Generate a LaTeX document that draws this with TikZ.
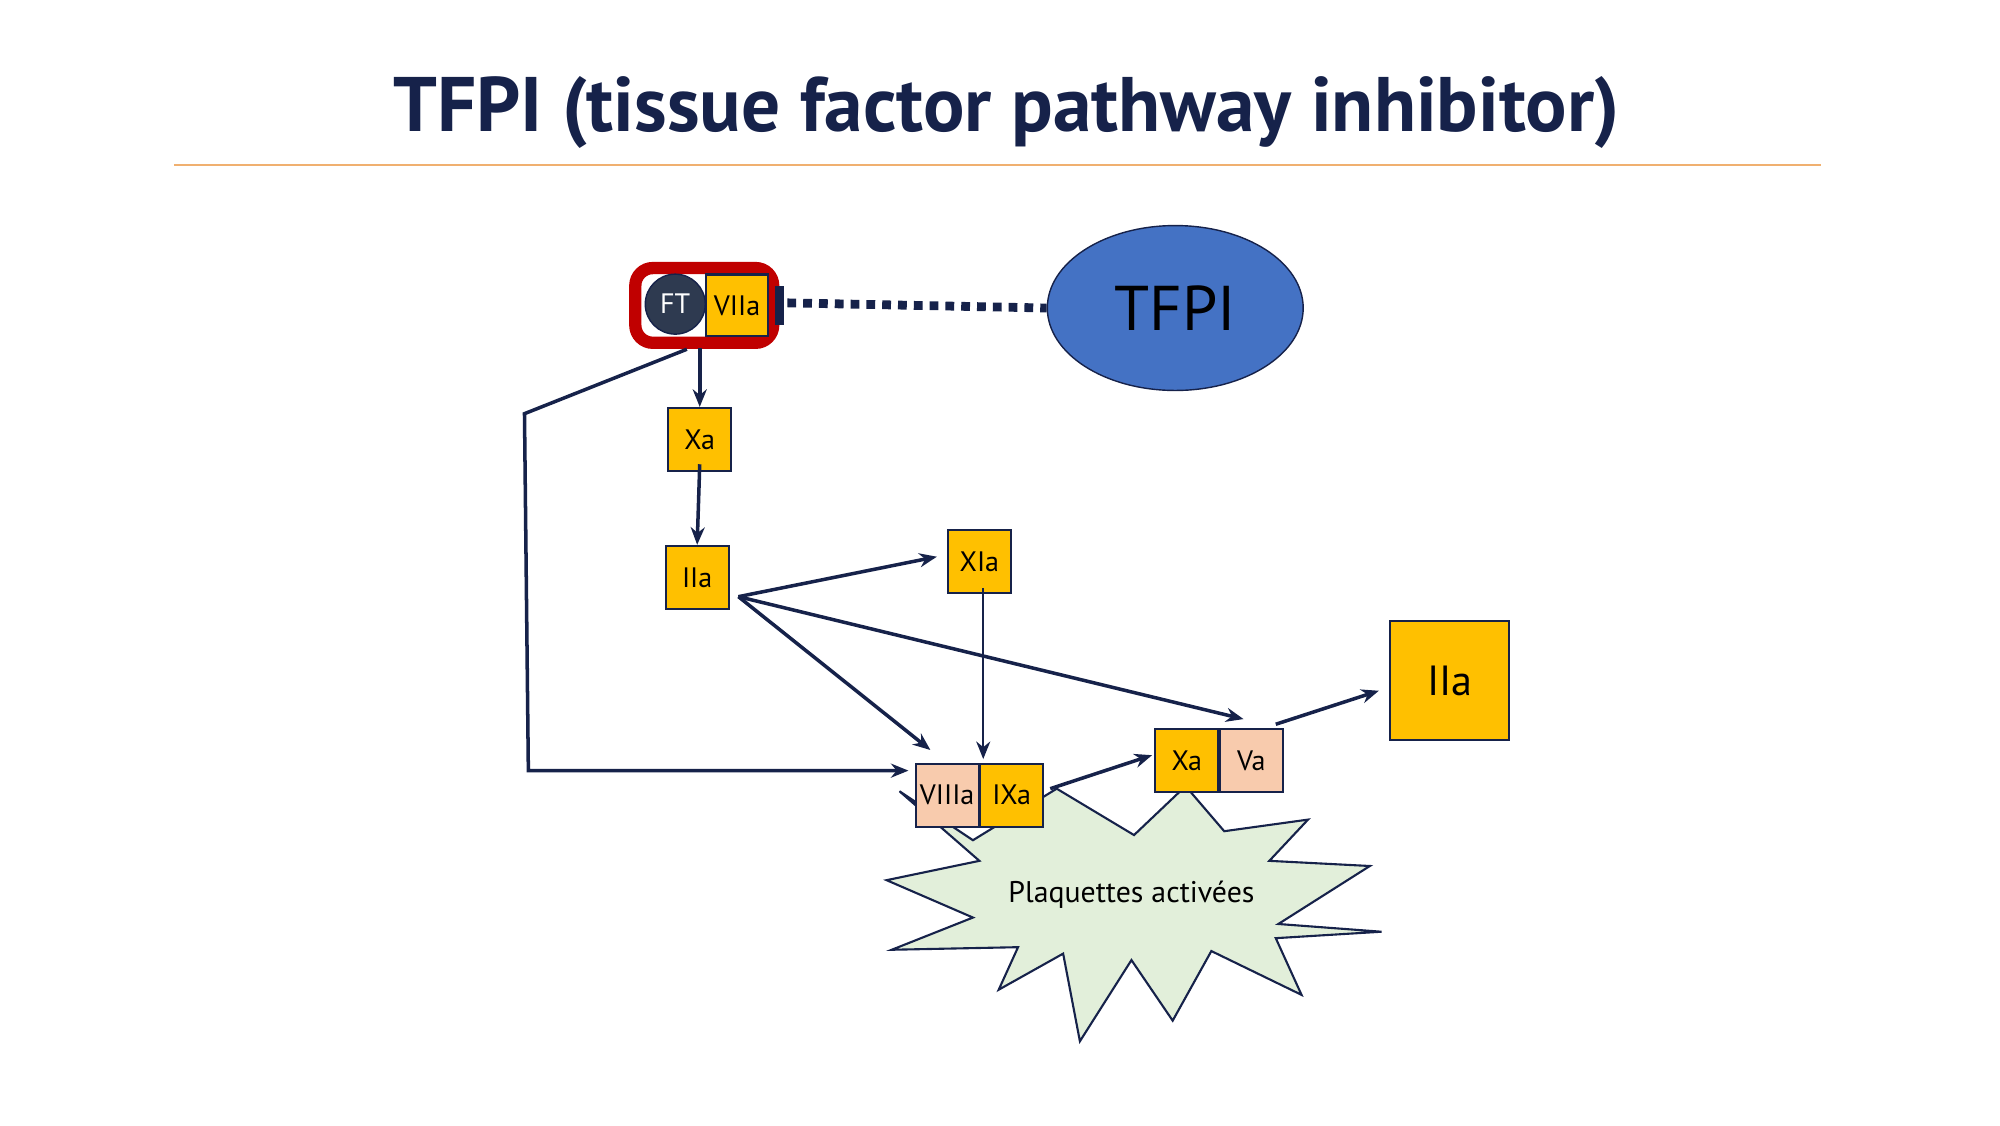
\documentclass[tikz,border=0pt]{standalone}
\usepackage{fontspec}
\setmainfont{PT Sans}
\usetikzlibrary{shapes.geometric,arrows.meta}
\definecolor{navy}{HTML}{16224A}
\definecolor{gold}{HTML}{FFC000}
\definecolor{peach}{HTML}{F8CBAD}
\definecolor{tred}{HTML}{C00000}
\definecolor{tblue}{HTML}{4472C4}
\definecolor{ftc}{HTML}{2E3A50}
\definecolor{starc}{HTML}{E2EFDA}
\definecolor{rule}{HTML}{F0B070}
\tikzset{
 box/.style={draw=navy,line width=0.6pt,minimum size=0.63cm,inner sep=0pt,font=\fontsize{8}{9}\selectfont},
 yb/.style={box,fill=gold},
 pb/.style={box,fill=peach},
 arr/.style={draw=navy,line width=1pt,-{Stealth[length=5pt,width=4pt]}},
}
\begin{document}
\begin{tikzpicture}[x=0.012887cm,y=-0.012887cm]
\useasboundingbox (0,0) rectangle (1552,873);
\node[font=\fontsize{22}{26}\selectfont\bfseries,text=navy] (title) at (781,87) {TFPI (tissue factor pathway inhibitor)};
\draw[rule,line width=0.8pt] (135,128) -- (1413,128);
% star
\draw[navy,fill=starc,line width=0.6pt] (698,614) -- (755,652) -- (820,612) -- (880,648) -- (920,610) -- (950,645) -- (1015,636) -- (985,668) -- (1063,672) -- (992,717) -- (1072,723) -- (990,728) -- (1010,772) -- (940,738) -- (910,792) -- (878,745) -- (838,808) -- (825,740) -- (775,768) -- (790,735) -- (692,737) -- (755,712) -- (688,683) -- (760,668) -- cycle;
\node[font=\fontsize{8.5}{10}\selectfont] (plaq) at (878,694) {Plaquettes activées};
% complex
\draw[tred,line width=3.5pt,rounded corners=5pt] (493,208) rectangle (600,266);
\node[yb,minimum size=0.62cm] (VIIa) at (572,237) {VIIa};
\node[circle,fill=ftc,draw=navy,minimum size=0.6cm,inner sep=0pt,text=white,font=\fontsize{8}{9}\selectfont] (FT) at (524,236) {FT};
\draw[navy,line width=2.5pt] (605,222) -- (605,252);
\node[ellipse,draw=navy,fill=tblue,minimum width=2.56cm,minimum height=1.65cm,font=\fontsize{18}{20}\selectfont] (tfpi) at (912,239) {TFPI};
\draw[navy,line width=2.5pt,dash pattern=on 2.5pt off 2pt] (611,235) -- (tfpi.west);
\node[yb] (Xa) at (543,341) {Xa};
\node[yb] (IIa) at (541,448) {IIa};
\node[yb] (XIa) at (760,436) {XIa};
\node[yb,minimum size=1.19cm,font=\fontsize{12}{14}\selectfont] (IIab) at (1125,528) {IIa};
\node[pb] (VIIIa) at (735,617) {VIIIa};
\node[yb] (IXa) at (785,617) {IXa};
\node[yb] (Xa2) at (921,590) {Xa};
\node[pb] (Va) at (971,590) {Va};
\coordinate (s) at (573,463);
\draw[arr] (543,270) -- (Xa.north);
\draw[arr] (Xa.south) ++(0,-6) -- (IIa.north);
\draw[arr] (s) -- (727,432);
\draw[arr] (s) -- (722,582);
\draw[arr] (s) -- (965,558);
\draw[arr,line width=0.6pt] (XIa.south) ++(3,-5) -- (763,589);
\draw[arr] (533,271) -- (407,321) -- (410,598) -- (705,598);
\draw[arr] (815,612) -- (894,586);
\draw[arr] (990,562) -- (1070,536);
\end{tikzpicture}
\end{document}
